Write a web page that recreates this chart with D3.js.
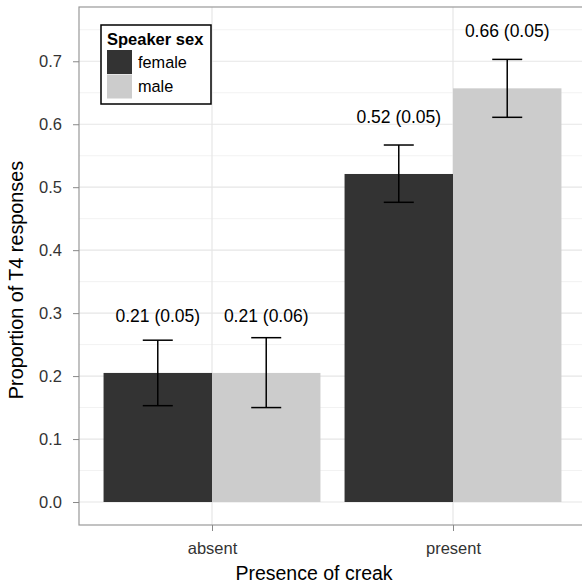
<!DOCTYPE html>
<html>
<head>
<meta charset="utf-8">
<script src="https://cdn.jsdelivr.net/npm/d3@7"></script>
<style>
  body { margin: 0; background: #fff; }
  svg { display: block; font-family: "Liberation Sans", Arial, sans-serif; }
</style>
</head>
<body>
<div id="chart"></div>
<script>
// Data
const creak = ["absent", "present"];
const sexes = ["female", "male"];
const means = [[0.205, 0.205], [0.521, 0.657]];       // [creak][sex]
const lower = [[0.153, 0.150], [0.476, 0.611]];
const upper = [[0.257, 0.261], [0.567, 0.703]];
const labels = [["0.21 (0.05)", "0.21 (0.06)"], ["0.52 (0.05)", "0.66 (0.05)"]];
const yTicks = [0, 0.1, 0.2, 0.3, 0.4, 0.5, 0.6, 0.7];
const yMinor = [0.05, 0.15, 0.25, 0.35, 0.45, 0.55, 0.65, 0.75];

const width = 582, height = 584;
const panel = { left: 79, right: 586, top: 7, bottom: 525 };
const fillMap = { female: "#333333", male: "#cccccc" };

const svg = d3.select("#chart").append("svg")
    .attr("width", width)
    .attr("height", height);

// Scales
const y = d3.scaleLinear()
    .domain([-0.0365, 0.7862])
    .range([panel.bottom, panel.top]);

// continuous x: category positions 1 and 2
const xc = d3.scaleLinear()
    .domain([1, 2])
    .range([212, 453]);
const x = d3.scaleOrdinal().domain(creak).range([1, 2]);
const dodge = d3.scaleBand().domain(sexes).range([-0.45, 0.45]);

// Grid
const grid = svg.append("g");
grid.selectAll("line.minor")
  .data(yMinor)
  .join("line")
    .attr("x1", panel.left).attr("x2", panel.right)
    .attr("y1", d => y(d)).attr("y2", d => y(d))
    .attr("stroke", "#f2f2f2").attr("stroke-width", 1);
grid.selectAll("line.major")
  .data(yTicks)
  .join("line")
    .attr("x1", panel.left).attr("x2", panel.right)
    .attr("y1", d => y(d)).attr("y2", d => y(d))
    .attr("stroke", "#e6e6e6").attr("stroke-width", 1.2);
grid.selectAll("line.vert")
  .data(creak)
  .join("line")
    .attr("x1", d => xc(x(d))).attr("x2", d => xc(x(d)))
    .attr("y1", panel.top).attr("y2", panel.bottom)
    .attr("stroke", "#e6e6e6").attr("stroke-width", 1.2);

// Flatten rows
const rows = [];
creak.forEach((c, i) => sexes.forEach((s, j) => {
  rows.push({ creak: c, sex: s, mean: means[i][j], lo: lower[i][j], hi: upper[i][j], label: labels[i][j] });
}));
const cx = d => xc(x(d.creak) + dodge(d.sex) + dodge.bandwidth() / 2);

// Bars
svg.append("g").selectAll("rect")
  .data(rows)
  .join("rect")
    .attr("x", d => xc(x(d.creak) + dodge(d.sex)))
    .attr("width", d => xc(dodge.bandwidth()) - xc(0))
    .attr("y", d => y(d.mean))
    .attr("height", d => y(0) - y(d.mean))
    .attr("fill", d => fillMap[d.sex]);

// Error bars
const capHalf = 15;
const err = svg.append("g").attr("stroke", "#000").attr("stroke-width", 1.5);
err.selectAll("line.v")
  .data(rows)
  .join("line")
    .attr("x1", cx).attr("x2", cx)
    .attr("y1", d => y(d.lo)).attr("y2", d => y(d.hi));
err.selectAll("line.t")
  .data(rows)
  .join("line")
    .attr("x1", d => cx(d) - capHalf).attr("x2", d => cx(d) + capHalf)
    .attr("y1", d => y(d.hi)).attr("y2", d => y(d.hi));
err.selectAll("line.b")
  .data(rows)
  .join("line")
    .attr("x1", d => cx(d) - capHalf).attr("x2", d => cx(d) + capHalf)
    .attr("y1", d => y(d.lo)).attr("y2", d => y(d.lo));

// Value labels
svg.append("g").selectAll("text")
  .data(rows)
  .join("text")
    .attr("x", cx)
    .attr("y", d => y(d.mean + 0.091))
    .attr("dy", "0.35em")
    .attr("text-anchor", "middle")
    .attr("font-size", "17.5px")
    .attr("fill", "#000")
    .text(d => d.label);

// Panel border
svg.append("rect")
    .attr("x", panel.left).attr("y", panel.top)
    .attr("width", panel.right - panel.left)
    .attr("height", panel.bottom - panel.top)
    .attr("fill", "none")
    .attr("stroke", "#999").attr("stroke-width", 1.2);

// Y axis
const yAxis = svg.append("g")
    .attr("transform", `translate(${panel.left},0)`)
    .call(d3.axisLeft(y).tickValues(yTicks).tickFormat(d3.format(".1f")).tickSize(6).tickPadding(11));
yAxis.select(".domain").remove();
yAxis.selectAll("line").attr("stroke", "#888");
yAxis.selectAll("text").attr("font-size", "16.5px").attr("fill", "#333")
    .attr("font-family", "Liberation Sans, Arial, sans-serif");

// X axis
const xAxis = svg.append("g")
    .attr("transform", `translate(0,${panel.bottom})`)
    .call(d3.axisBottom(xc).tickValues([1, 2]).tickFormat(d => creak[d - 1]).tickSize(6).tickPadding(11));
xAxis.select(".domain").remove();
xAxis.selectAll("line").attr("stroke", "#888");
xAxis.selectAll("text").attr("font-size", "16.5px").attr("fill", "#333")
    .attr("font-family", "Liberation Sans, Arial, sans-serif");

// Axis titles
svg.append("text")
    .attr("x", 314)
    .attr("y", 580)
    .attr("text-anchor", "middle")
    .attr("font-size", "19.5px")
    .text("Presence of creak");
svg.append("text")
    .attr("transform", "translate(23,280) rotate(-90)")
    .attr("text-anchor", "middle")
    .attr("font-size", "19.8px")
    .text("Proportion of T4 responses");

// Legend
const lg = svg.append("g").attr("transform", "translate(101,25)");
lg.append("rect")
    .attr("width", 110).attr("height", 79)
    .attr("fill", "#fff")
    .attr("stroke", "#000").attr("stroke-width", 1.5);
lg.append("text")
    .attr("x", 6).attr("y", 20)
    .attr("font-size", "16.5px").attr("font-weight", "bold")
    .text("Speaker sex");
const keys = lg.selectAll("g.key")
  .data(sexes)
  .join("g")
    .attr("transform", (d, i) => `translate(6,${25 + i * 24.5})`);
keys.append("rect")
    .attr("width", 25).attr("height", 24)
    .attr("fill", d => fillMap[d]);
keys.append("text")
    .attr("x", 31).attr("y", 12).attr("dy", "0.35em")
    .attr("font-size", "16.3px")
    .text(d => d);
</script>
</body>
</html>
